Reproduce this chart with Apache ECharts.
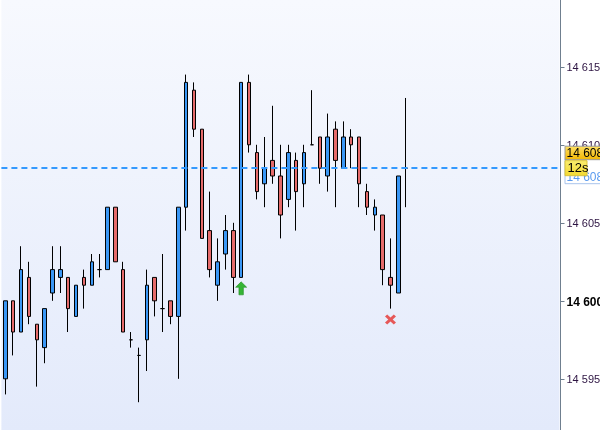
<!DOCTYPE html>
<html><head><meta charset="utf-8">
<script src="https://cdn.jsdelivr.net/npm/echarts@6/dist/echarts.min.js"></script>
<style>html,body{margin:0;padding:0;background:#fff}#c{width:600px;height:430px}</style>
</head><body><div id="c"></div>
<script>
// ---- data ----
const times = ['10:00','10:01','10:02','10:03','10:04','10:05','10:06','10:07','10:08','10:09',
  '10:10','10:11','10:12','10:13','10:14','10:15','10:16','10:17','10:18','10:19',
  '10:20','10:21','10:22','10:23','10:24','10:25','10:26','10:27','10:28','10:29',
  '10:30','10:31','10:32','10:33','10:34','10:35','10:36','10:37','10:38','10:39',
  '10:40','10:41','10:42','10:43','10:44','10:45','10:46','10:47','10:48','10:49',
  '10:50','10:51'];
const futureTimes = ['10:52','10:53','10:54','10:55','10:56','10:57','10:58','10:59','11:00','11:01',
  '11:02','11:03','11:04','11:05','11:06','11:07','11:08','11:09','11:10'];
const opens = [14595,14600,14598,14601.5,14598.5,14597,14600.5,14601.5,14601.5,14599,
  14601.5,14601,14602,14602,14606,14602,14597.5,14596.5,14597.5,14601.5,
  14599.5,14600,14599,14606,14613.5,14611,14604.5,14601,14603,14604.5,
  14601.5,14614,14609.5,14607.5,14609,14608,14606.5,14609,14607.5,14610,
  14610.5,14608,14611,14608.5,14610.5,14610.5,14607,14605.5,14605.5,14601.5,
  14600.5,14608.5];
const closes = [14600,14598,14602,14599,14597.5,14599.5,14602,14602,14599.5,14601,
  14601,14602.5,14602,14606,14602.5,14598,14597.5,14596.5,14601,14600,
  14599.5,14599,14606,14614,14611,14604,14602,14602.5,14604.5,14601.5,
  14614,14610,14607,14608.5,14608,14605.5,14609.5,14607,14609.5,14610,
  14608.5,14610.5,14609,14610.5,14610,14607.5,14606,14606,14602,14601,
  14608,14608.5];
const lows = [14594,14596.5,14598,14598.5,14594.5,14596,14600,14600.5,14598,14599,
  14599.5,14601,14601.5,14602,14602.5,14598,14597,14593.5,14595.5,14599,
  14598,14598.5,14595,14604.5,14610.5,14604,14601.5,14600,14602,14600.5,
  14601.5,14609.5,14606.5,14606,14607.5,14604,14606,14604.5,14606,14610,
  14607.5,14607,14606,14608.5,14608.5,14606,14605.5,14604.5,14601,14599.5,
  14600.5,14606];
const highs = [14600,14600,14603.5,14602.5,14598.5,14599.5,14603.5,14603.5,14601.5,14601,
  14602,14603,14603,14606,14606,14602.5,14598,14597,14602,14601.5,
  14603,14600,14606,14614.5,14614,14611,14607,14604,14605.5,14605,
  14614,14614.5,14610,14610.5,14612.5,14610,14610,14609.5,14610,14613.5,
  14610.5,14612,14611.5,14611.5,14611,14610.5,14607.5,14606.5,14605.5,14604,
  14608,14613];
const currentPrice = 14608.5;
const priceLabel = '14 608';
const countdown = '12s';
const buySignals = [[30, 14600.8]];
const sellSignals = [[49, 14598.8]];
const yMin = 14591.72, yMax = 14619.28;

// ---- chart ----
const categories = times.concat(futureTimes);
const ohlc = opens.map((o, i) => [o, closes[i], lows[i], highs[i]]);
const gridLeft = 1.4, gridRight = 40.5;
const chart = echarts.init(document.getElementById('c'), null, {renderer: 'canvas'});
const fmt = v => Math.round(v).toString().replace(/\B(?=(\d{3})+(?!\d))/g, ' ');
chart.setOption({
  animation: false,
  backgroundColor: '#ffffff',
  grid: {left: gridLeft, right: gridRight, top: 0, bottom: 0, show: true, borderWidth: 0,
    containLabel: false, outerBoundsMode: 'none',
    backgroundColor: new echarts.graphic.LinearGradient(0, 0, 0, 1, [
      {offset: 0, color: '#f7f9fe'}, {offset: 1, color: '#e3eafb'}])},
  xAxis: {type: 'category', data: categories, boundaryGap: true, show: false},
  yAxis: {type: 'value', position: 'right', min: yMin, max: yMax, offset: 1, scale: true,
    splitLine: {show: false},
    axisLine: {show: true, lineStyle: {color: '#6f7f8f', width: 1}},
    axisTick: {show: true, length: 4, lineStyle: {color: '#6f7f8f'}},
    axisLabel: {margin: 6, color: '#2d1442', fontSize: 11, fontFamily: '"Liberation Sans", Arial',
      padding: [3, 0, 0, 0],
      showMinLabel: false, showMaxLabel: false,
      formatter: v => {
        if (Math.abs(v / 5 - Math.round(v / 5)) > 1e-6) return '';
        const s = fmt(v);
        return Math.round(v) === 14600 ? '{b|' + s + '}' : s;
      },
      rich: {b: {fontWeight: 'bold', color: '#000', fontSize: 12, fontFamily: '"Liberation Sans", Arial'}}
    }},
  series: [{
    type: 'candlestick', data: ohlc, barWidth: 4,
    itemStyle: {color: '#3a97f5', color0: '#e56b6b', borderColor: '#000', borderColor0: '#000',
      borderColorDoji: '#000', borderWidth: 1},
    markLine: {silent: true, symbol: ['none', 'none'], label: {show: false},
      lineStyle: {color: '#3399ff', width: 2, type: [6, 4]},
      data: [{yAxis: currentPrice}]}
  }, {
    type: 'scatter', data: buySignals, silent: true,
    symbol: 'path://M5,0 L10,5 L7,5 L7,12 L3,12 L3,5 L0,5 Z', symbolSize: [11, 13],
    itemStyle: {color: '#35b535', borderColor: '#1e8a1e', borderWidth: 0.6, opacity: 1}
  }, {
    type: 'scatter', data: sellSignals, silent: true,
    symbol: 'path://M2,0 L5,3 L8,0 L10,2 L7,5 L10,8 L8,10 L5,7 L2,10 L0,8 L3,5 L0,2 Z', symbolSize: [11, 10],
    itemStyle: {color: '#e65858', opacity: 1}
  }]
});

const yL = chart.convertToPixel({yAxisIndex: 0}, currentPrice);
const ax = 600 - gridRight + 1;
const F = '12px "Liberation Sans", Arial';
chart.setOption({graphic: [
  {type: 'rect', z: 100, shape: {x: ax + 4.5, y: yL - 9.5, width: 40, height: 25},
    style: {fill: '#ffffff', stroke: '#a9c4ec', lineWidth: 1}},
  {type: 'text', z: 101, style: {text: priceLabel, x: ax + 6, y: yL + 9, fill: '#5b9bef', font: F, verticalAlign: 'middle'}},
  {type: 'rect', z: 102, shape: {x: ax + 4.5, y: yL - 22, width: 40, height: 13.5},
    style: {fill: new echarts.graphic.LinearGradient(0, 0, 0, 1, [{offset: 0, color: '#ffe066'}, {offset: 1, color: '#f2b600'}]),
      stroke: '#9a9a9a', lineWidth: 1}},
  {type: 'text', z: 103, style: {text: priceLabel, x: ax + 6, y: yL - 15, fill: '#000', font: F, verticalAlign: 'middle'}},
  {type: 'rect', z: 104, shape: {x: ax + 4.5, y: yL - 7.5, width: 22, height: 15},
    style: {fill: new echarts.graphic.LinearGradient(0, 0, 0, 1, [{offset: 0, color: '#fbee70'}, {offset: 1, color: '#f2d830'}]),
      stroke: '#d9c23a', lineWidth: 1}},
  {type: 'text', z: 105, style: {text: countdown, x: ax + 7, y: yL + 0.5, fill: '#000', font: '13px "Liberation Sans", Arial', verticalAlign: 'middle'}}
]});
</script></body></html>
